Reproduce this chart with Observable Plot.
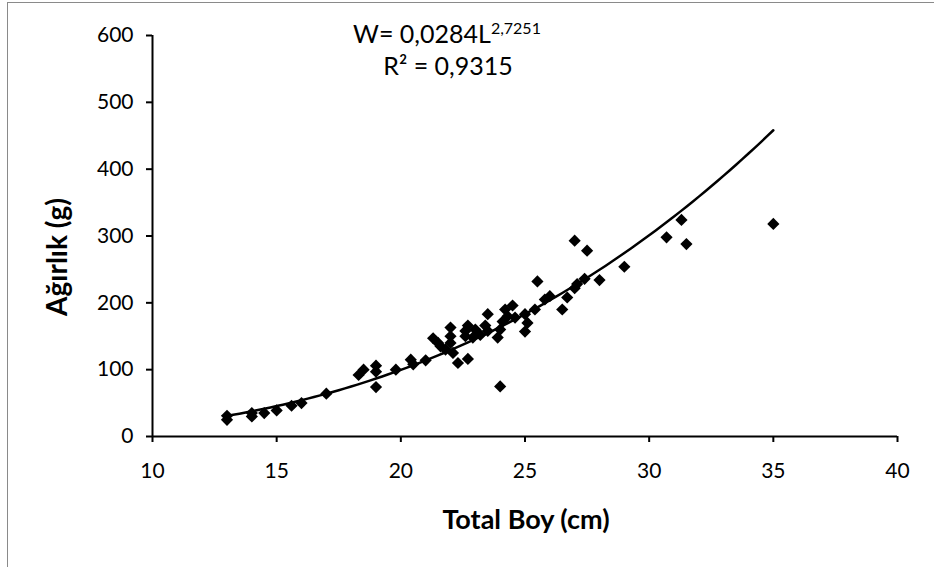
<!DOCTYPE html>
<html>
<head>
<meta charset="utf-8">
<script src="https://cdn.jsdelivr.net/npm/d3@7"></script>
<script src="https://cdn.jsdelivr.net/npm/@observablehq/plot@0.6"></script>
<style>
  html, body { margin: 0; padding: 0; background: #fff; }
  #wrap { position: relative; width: 934px; height: 567px; overflow: hidden; }
  #wrap svg { position: absolute; left: 0; top: 0; }
  .bt { position: absolute; left: 7px; top: 2px; width: 927px; height: 0; border-top: 1.5px solid #8a8a8a; }
  .bl { position: absolute; left: 7px; top: 2px; width: 0; height: 565px; border-left: 1.5px solid #8a8a8a; }
</style>
</head>
<body>
<div id="wrap"><div class="bt"></div><div class="bl"></div></div>
<script>
// Observed data: Total Boy (cm) and Ağırlık (g)
const lengths = [13.0,13.0,14.0,14.0,14.5,15.0,15.6,16.0,17.0,18.3,18.5,19.0,19.0,19.0,19.8,20.4,20.5,21.0,21.3,21.5,21.6,21.8,22.0,22.0,22.0,22.1,22.3,22.6,22.6,22.7,22.7,22.9,23.0,23.2,23.4,23.5,23.5,23.9,24.0,24.0,24.1,24.2,24.3,24.5,24.6,25.0,25.0,25.1,25.4,25.5,25.8,26.0,26.5,26.7,27.0,27.0,27.1,27.4,27.5,28.0,29.0,30.7,31.3,31.5,35.0];
const weights = [31,25,35,30,35,39,46,50,64,92,100,106,97,74,100,115,108,114,147,140,135,130,163,150,140,125,110,158,150,166,116,148,160,152,166,183,158,148,160,75,172,190,180,196,178,183,157,170,190,232,205,210,190,208,293,222,228,236,278,234,254,298,324,288,318];

// Power trend line shown on the chart: W = a * L^b
const fitA = 0.0284;
const fitB = 2.7251;
const fitRange = [13, 35];
const equationText = ["W= 0,0284L", "2,7251"];
const r2Text = "R² = 0,9315";

const xTicks = [10, 15, 20, 25, 30, 35, 40];
const yTicks = [0, 100, 200, 300, 400, 500, 600];
const xTitle = "Total Boy (cm)";
const yTitle = "Ağırlık (g)";

const points = lengths.map((L, i) => ({L, W: weights[i]}));
const curve = d3.range(fitRange[0], fitRange[1] + 0.001, 0.25).map(L => ({L, W: fitA * Math.pow(L, fitB)}));

const FONT = "Lato, 'Open Sans', sans-serif";

const chart = Plot.plot({
  width: 934,
  height: 567,
  marginLeft: 152,
  marginRight: 37,
  marginTop: 35,
  marginBottom: 131,
  x: {domain: [10, 40]},
  y: {domain: [0, 600]},
  style: {fontFamily: FONT, fontSize: "21px", color: "#000", background: "transparent"},
  marks: [
    Plot.axisX({ticks: xTicks, tickSize: 6, tickPadding: 21, label: null, strokeWidth: 2, fontSize: 21, tickFormat: d => String(d)}),
    Plot.axisY({ticks: yTicks, tickSize: 6, tickPadding: 13, label: null, strokeWidth: 2, fontSize: 21, tickFormat: d => String(d)}),
    Plot.ruleY([0], {stroke: "#000", strokeWidth: 2}),
    Plot.ruleX([10], {stroke: "#000", strokeWidth: 2}),
    Plot.line(curve, {x: "L", y: "W", stroke: "#000", strokeWidth: 2.5}),
    Plot.dot(points, {x: "L", y: "W", symbol: "diamond2", r: 5.5, fill: "#000", stroke: "none"})
  ]
});

const svg = d3.select(chart);
// Axis titles
svg.append("text")
  .attr("x", 526).attr("y", 529)
  .attr("text-anchor", "middle")
  .attr("font-family", FONT).attr("font-size", 27).attr("font-weight", "bold")
  .attr("fill", "#000")
  .text(xTitle);
svg.append("text")
  .attr("transform", "translate(67,257) rotate(-90)")
  .attr("text-anchor", "middle")
  .attr("font-family", FONT).attr("font-size", 28).attr("font-weight", "bold")
  .attr("fill", "#000")
  .text(yTitle);
// Trendline equation
const eq = svg.append("text")
  .attr("x", 447).attr("y", 43)
  .attr("text-anchor", "middle")
  .attr("font-family", FONT).attr("font-size", 25)
  .attr("fill", "#000");
eq.append("tspan").text(equationText[0]);
eq.append("tspan").attr("dy", -9).attr("font-size", 16).text(equationText[1]);
svg.append("text")
  .attr("x", 448).attr("y", 75)
  .attr("text-anchor", "middle")
  .attr("font-family", FONT).attr("font-size", 25)
  .attr("fill", "#000")
  .text(r2Text);

document.getElementById("wrap").appendChild(chart);
</script>
</body>
</html>
